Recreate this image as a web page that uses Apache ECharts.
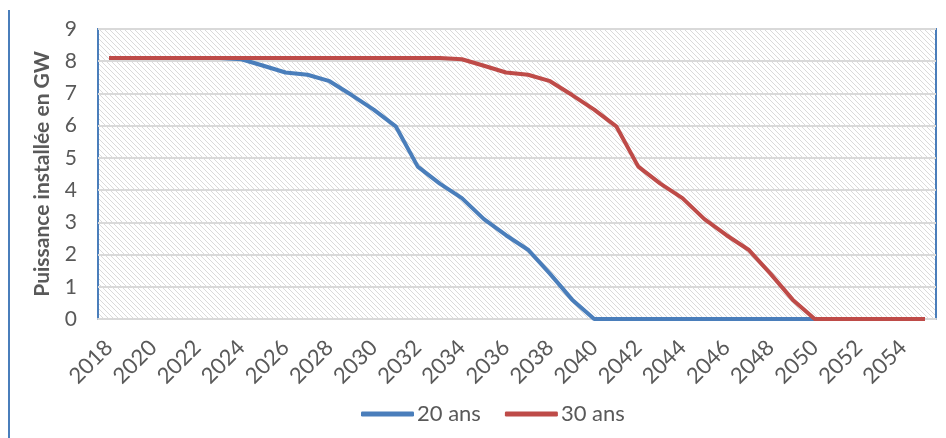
<!DOCTYPE html>
<html>
<head>
<meta charset="utf-8">
<script src="https://cdn.jsdelivr.net/npm/echarts@6/dist/echarts.min.js"></script>
<style>
  html, body { margin: 0; padding: 0; background: #fff; }
  #main { width: 946px; height: 438px; }
</style>
</head>
<body>
<div id="main"></div>
<script>
// années 2018 -> 2055
let years = []
for (let y = 2018; y <= 2055; y++) years.push(String(y))

// puissance installée (GW), durée de vie 20 ans
let vals20 = [8.1, 8.1, 8.1, 8.1, 8.1, 8.1, 8.06, 7.86, 7.65, 7.58, 7.38, 6.95, 6.5, 5.98,
  4.73, 4.2, 3.75, 3.1, 2.6, 2.15, 1.4, 0.6, 0,
  0, 0, 0, 0, 0, 0, 0, 0, 0, 0, 0, 0, 0, 0, 0]
// durée de vie 30 ans
let vals30 = [8.1, 8.1, 8.1, 8.1, 8.1, 8.1, 8.1, 8.1, 8.1, 8.1, 8.1, 8.1, 8.1, 8.1, 8.1, 8.1,
  8.06, 7.86, 7.65, 7.58, 7.38, 6.95, 6.5, 5.98,
  4.73, 4.2, 3.75, 3.1, 2.6, 2.15, 1.4, 0.6, 0,
  0, 0, 0, 0, 0]

let yTicks = [0, 9, 1] // min, max, pas

// motif hachuré du fond
function hatch() {
  let n = 5
  let c = document.createElement('canvas')
  c.width = n
  c.height = n
  let ctx = c.getContext('2d')
  ctx.fillStyle = '#fff'
  ctx.fillRect(0, 0, n, n)
  ctx.fillStyle = '#dadada'
  for (let i = 0; i < n; i++) ctx.fillRect(i, i, 1, 1)
  return c
}

let font = 'Lato'
let grey = '#595959'
let myChart = echarts.init(document.getElementById('main'))

let option = {
  animation: false,
  textStyle: { fontFamily: font },
  grid: {
    left: 98, right: 10, top: 29, bottom: 119,
    show: true,
    backgroundColor: { image: hatch(), repeat: 'repeat' },
    borderColor: '#4a7ebb',
    borderWidth: 2
  },
  graphic: [{
    type: 'line',
    shape: { x1: 9, y1: 10, x2: 9, y2: 438 },
    style: { stroke: '#4a7ebb', lineWidth: 2 }
  }],
  legend: {
    left: 356, top: 398,
    icon: 'roundRect',
    itemWidth: 53, itemHeight: 5,
    itemGap: 24,
    textStyle: { fontFamily: font, fontSize: 22, color: grey, padding: [0, 0, 0, -2] },
    data: ['20 ans', '30 ans']
  },
  xAxis: {
    type: 'category',
    data: years,
    boundaryGap: true,
    axisLine: { lineStyle: { color: '#d9d9d9', width: 2 } },
    axisTick: { show: false },
    axisLabel: {
      interval: 1, rotate: 45, margin: 25,
      fontFamily: font, fontSize: 22, color: grey
    }
  },
  yAxis: {
    type: 'value',
    min: yTicks[0], max: yTicks[1], interval: yTicks[2],
    name: 'Puissance installée en GW',
    nameLocation: 'middle',
    nameGap: 45,
    nameTextStyle: { fontFamily: font, fontSize: 21, fontWeight: 'bold', color: grey },
    axisLine: { show: false },
    axisTick: { show: false },
    axisLabel: { margin: 21, fontFamily: font, fontSize: 21, color: grey },
    splitLine: { lineStyle: { color: '#d9d9d9', width: 2 } }
  },
  series: [
    {
      name: '20 ans', type: 'line', data: vals20,
      symbol: 'none',
      lineStyle: { color: '#4a7ebb', width: 4 },
      itemStyle: { color: '#4a7ebb' }
    },
    {
      name: '30 ans', type: 'line', data: vals30,
      symbol: 'none',
      lineStyle: { color: '#be4b48', width: 4 },
      itemStyle: { color: '#be4b48' }
    }
  ]
}

myChart.setOption(option)
</script>
</body>
</html>
